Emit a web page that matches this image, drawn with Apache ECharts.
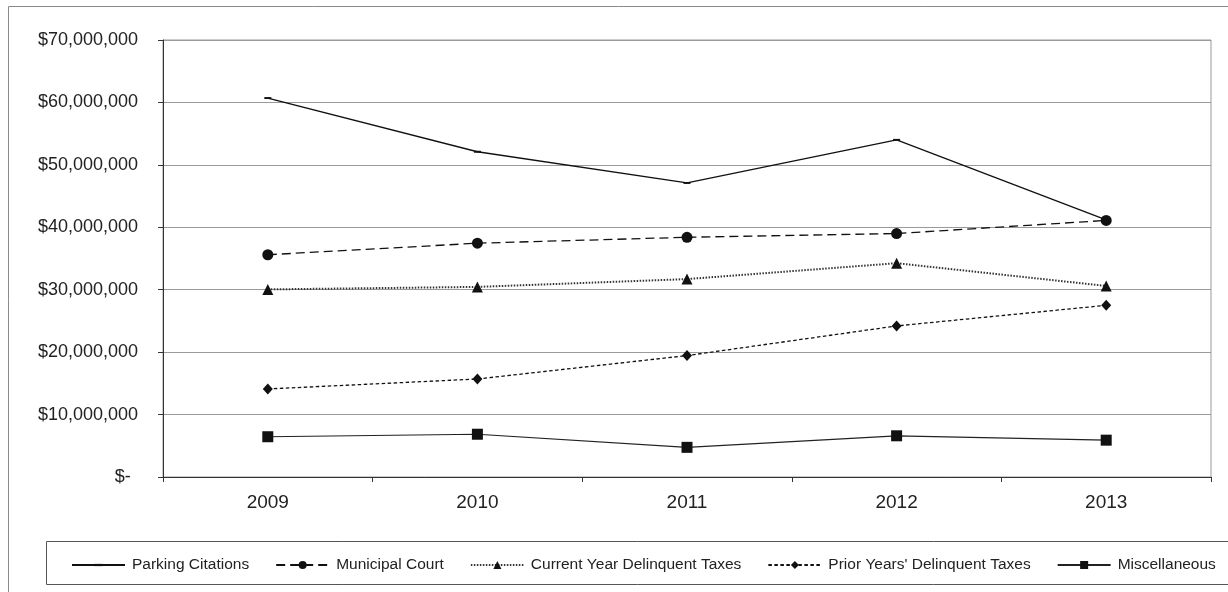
<!DOCTYPE html>
<html>
<head>
<meta charset="utf-8">
<script src="https://cdn.jsdelivr.net/npm/echarts@6/dist/echarts.min.js"></script>
<style>
  html, body { margin: 0; padding: 0; background: #fff; }
  #chart { width: 1228px; height: 592px; }
</style>
</head>
<body>
<div id="chart"></div>
<script>
// Revenue by source, fiscal years 2009–2013
const years = ['2009', '2010', '2011', '2012', '2013'];
const parkingCitations = [60700000, 52100000, 47100000, 54000000, 41200000];
const municipalCourt = [35600000, 37450000, 38400000, 39000000, 41100000];
const currentYearDelinquent = [30050000, 30450000, 31700000, 34250000, 30600000];
const priorYearsDelinquent = [14100000, 15700000, 19450000, 24200000, 27500000];
const miscellaneous = [6450000, 6850000, 4750000, 6600000, 5900000];
const seriesNames = [
  'Parking Citations',
  'Municipal Court',
  'Current Year Delinquent Taxes',
  "Prior Years' Delinquent Taxes",
  'Miscellaneous'
];

const ink = '#111';
const font = 'Arial, "Liberation Sans", sans-serif';
// thin dash marker, padded to a square box so it stays small in the legend too
const dashMarker = 'path://M0,0M10,10M0,3.6h10v2.8h-10z';

function money(v) {
  if (v === 0) return '$-\u2009\u2009';
  return '$' + v.toLocaleString('en-US');
}

const chart = echarts.init(document.getElementById('chart'), null, { renderer: 'canvas' });

chart.setOption({
  animation: false,
  backgroundColor: '#fff',
  textStyle: { fontFamily: font },
  graphic: [
    { type: 'rect', silent: true, z: 0,
      shape: { x: 8.5, y: 6.5, width: 1240, height: 600 },
      style: { fill: null, stroke: '#8a8a8a', lineWidth: 1 } },
    { type: 'rect', silent: true, z: 0,
      shape: { x: 46.5, y: 541.5, width: 1200, height: 43 },
      style: { fill: null, stroke: '#555', lineWidth: 1 } }
  ],
  grid: {
    left: 163, right: 17, top: 40, bottom: 115,
    show: true, borderColor: '#999', borderWidth: 1
  },
  legend: {
    left: 66, top: 552,
    itemWidth: 53, itemHeight: 10, itemGap: 26,
    textStyle: { fontSize: 15.5, color: '#222', fontFamily: font, padding: [0, 0, 0, 2] },
    data: seriesNames
  },
  xAxis: {
    type: 'category',
    data: years,
    boundaryGap: true,
    axisLine: { lineStyle: { color: '#333', width: 1 } },
    axisTick: { show: true, inside: false, length: 5, lineStyle: { color: '#333' } },
    axisLabel: { fontSize: 19, color: '#222', margin: 16, fontFamily: font }
  },
  yAxis: {
    type: 'value',
    min: 0, max: 70000000, interval: 10000000,
    axisLine: { show: true, lineStyle: { color: '#333', width: 1 } },
    axisTick: { show: true, inside: false, length: 5, lineStyle: { color: '#333' } },
    axisLabel: { fontSize: 18, color: '#222', margin: 25, fontFamily: font, formatter: money },
    splitLine: { lineStyle: { color: '#9a9a9a', width: 1 } }
  },
  series: [
    {
      name: seriesNames[0], type: 'line', data: parkingCitations,
      symbol: dashMarker, symbolSize: 7,
      lineStyle: { color: ink, width: 1.3 },
      itemStyle: { color: ink }
    },
    {
      name: seriesNames[1], type: 'line', data: municipalCourt,
      symbol: 'circle', symbolSize: 11,
      lineStyle: { color: ink, width: 1.3, type: [9, 5] },
      itemStyle: { color: ink }
    },
    {
      name: seriesNames[2], type: 'line', data: currentYearDelinquent,
      symbol: 'triangle', symbolSize: 11,
      lineStyle: { color: '#333', width: 2, type: [1.5, 1.5] },
      itemStyle: { color: ink }
    },
    {
      name: seriesNames[3], type: 'line', data: priorYearsDelinquent,
      symbol: 'diamond', symbolSize: [10, 11],
      lineStyle: { color: ink, width: 1.3, type: [3.5, 2.5] },
      itemStyle: { color: ink }
    },
    {
      name: seriesNames[4], type: 'line', data: miscellaneous,
      symbol: 'rect', symbolSize: 11,
      lineStyle: { color: '#222', width: 1.2 },
      itemStyle: { color: ink }
    }
  ]
});
</script>
</body>
</html>
